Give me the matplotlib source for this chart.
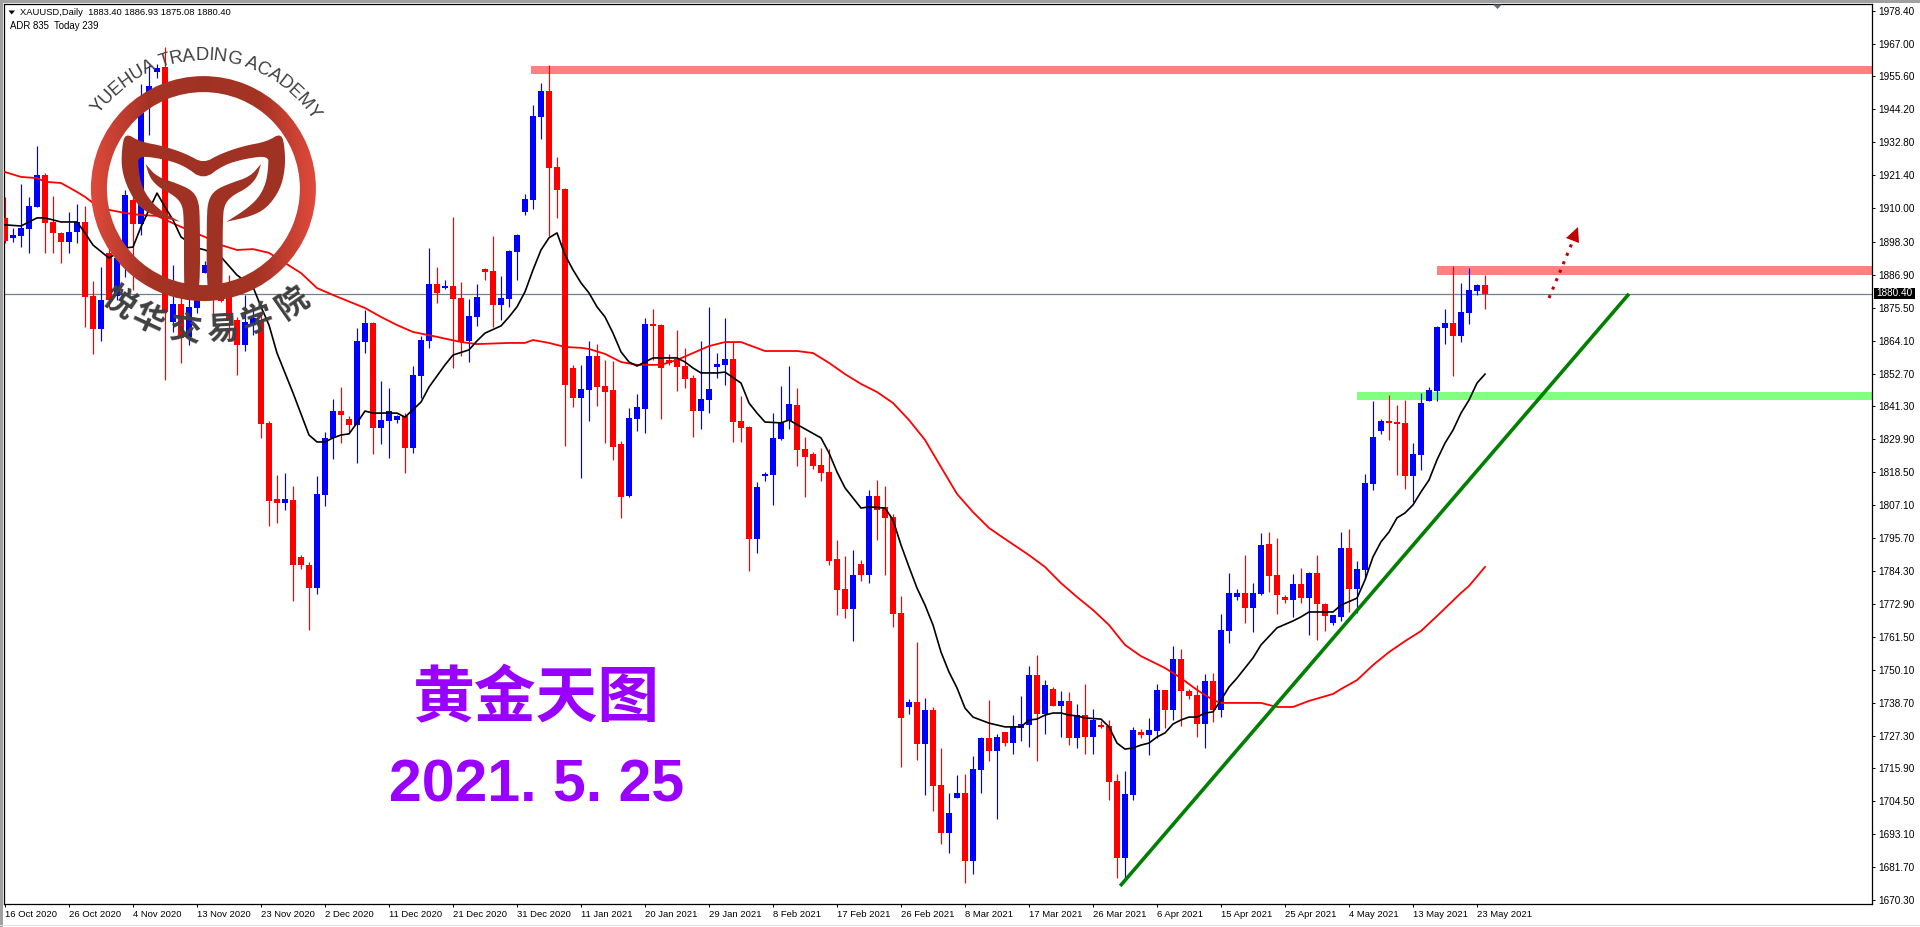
import numpy as np
import matplotlib
matplotlib.use('Agg')
import matplotlib.pyplot as plt
from matplotlib.colors import LinearSegmentedColormap
from matplotlib.patches import Polygon, Rectangle, Wedge

opens = [1906.6,1899.7,1900.3,1902.8,1910.4,1921.5,1905.2,1901.4,1898.3,1901.7,
         1905.2,1879.6,1868.1,1894.5,1879.6,1896.2,1912.8,1904.5,1947.5,1957.2,
         1958.9,1870.6,1876.8,1865.4,1875.4,1887.5,1886.8,1879.6,1880.6,1871.3,
         1862.6,1869.5,1871.3,1835.6,1809.2,1807.9,1808.9,1789.2,1786.4,1778.4,
         1810.6,1830.4,1839.7,1836.9,1834.9,1863.6,1870.2,1833.8,1836.3,1836.6,
         1838.0,1826.9,1851.8,1864.0,1883.7,1882.3,1883.0,1878.9,1864.0,1872.3,
         1888.9,1888.2,1876.4,1878.5,1894.8,1908.7,1912.8,1941.6,1950.6,1924.3,
         1916.6,1854.6,1844.2,1847.0,1858.8,1848.4,1847.0,1828.3,1810.3,1836.9,
         1840.4,1869.9,1869.5,1857.4,1857.7,1855.3,1851.2,1839.7,1843.5,1855.0,
         1855.7,1857.7,1836.3,1834.2,1795.4,1817.2,1817.6,1830.0,1836.3,1841.8,
         1826.6,1824.8,1821.0,1818.6,1788.5,1778.1,1771.1,1786.7,1782.9,1810.3,
         1806.5,1803.0,1769.8,1737.2,1738.9,1724.4,1736.2,1710.2,1693.5,1705.7,
         1707.4,1683.8,1715.4,1726.5,1721.9,1728.5,1724.7,1729.9,1731.0,1748.3,
         1734.8,1743.4,1737.5,1739.3,1726.5,1734.4,1726.8,1730.9,1730.6,1711.6,
         1684.9,1706.7,1728.5,1727.5,1728.9,1743.1,1736.2,1753.8,1742.7,1741.4,
         1731.3,1746.2,1736.2,1763.5,1775.3,1776.7,1771.5,1776.3,1793.7,1782.9,
         1775.3,1774.3,1779.8,1775.0,1783.6,1772.9,1766.3,1768.4,1792.3,1778.1,
         1784.7,1814.4,1832.8,1836.3,1835.9,1835.6,1817.2,1824.5,1843.2,1846.7,
         1868.5,1870.2,1865.7,1873.7,1881.3,1883.40]
highs = [1913.9,1903.1,1918.4,1913.9,1931.5,1922.2,1914.2,1901.7,1908.7,1911.4,
         1910.7,1884.8,1889.6,1896.5,1899.0,1916.3,1913.9,1953.0,1959.6,1959.9,
         1965.8,1890.3,1884.1,1879.9,1883.4,1891.7,1888.6,1883.4,1886.8,1872.3,
         1879.9,1874.7,1873.0,1836.3,1817.6,1818.3,1813.7,1789.8,1787.4,1817.2,
         1832.4,1843.9,1848.0,1838.0,1868.5,1874.7,1870.6,1850.1,1847.7,1838.3,
         1839.0,1855.3,1865.7,1896.2,1889.6,1885.1,1906.9,1884.4,1878.5,1883.7,
         1889.3,1900.3,1886.5,1895.5,1901.0,1914.9,1945.7,1953.4,1959.6,1927.7,
         1917.0,1855.7,1855.7,1864.0,1862.9,1857.4,1857.0,1829.3,1840.8,1845.6,
         1871.9,1875.1,1869.9,1859.5,1867.8,1861.5,1852.2,1864.0,1875.8,1859.8,
         1871.9,1863.6,1844.9,1834.5,1815.1,1818.6,1839.0,1848.4,1855.3,1847.7,
         1830.7,1825.5,1826.9,1826.6,1795.0,1789.5,1791.6,1788.1,1812.4,1815.8,
         1813.7,1804.0,1775.6,1740.0,1759.7,1740.3,1737.2,1723.0,1707.4,1713.6,
         1714.0,1720.2,1726.8,1739.6,1727.8,1728.5,1734.4,1741.0,1751.4,1755.2,
         1746.6,1744.1,1742.7,1742.4,1738.2,1745.2,1736.5,1732.3,1732.7,1714.0,
         1715.0,1730.3,1729.6,1733.4,1745.2,1743.1,1758.3,1757.3,1743.4,1744.8,
         1748.6,1749.0,1769.4,1783.6,1778.1,1789.8,1780.1,1797.5,1797.8,1795.7,
         1776.0,1783.3,1785.3,1783.9,1789.8,1773.2,1769.1,1797.8,1798.8,1787.8,
         1817.9,1843.2,1836.9,1845.3,1841.8,1843.5,1828.6,1846.0,1848.0,1869.2,
         1875.1,1890.0,1884.1,1889.3,1883.7,1886.93]
lows = [1897.9,1898.3,1896.5,1894.5,1910.4,1894.5,1894.5,1891.0,1894.5,1897.9,
        1868.8,1859.5,1864.0,1875.4,1878.2,1886.1,1881.7,1900.7,1935.3,1955.1,
        1850.5,1867.1,1856.4,1862.6,1873.7,1887.5,1872.3,1877.5,1864.3,1852.2,
        1860.5,1866.1,1830.4,1799.9,1800.9,1805.4,1773.9,1785.0,1763.9,1776.3,
        1806.8,1823.1,1828.6,1832.1,1821.7,1859.8,1824.8,1828.3,1823.4,1835.6,
        1818.3,1825.2,1844.2,1861.5,1877.1,1882.0,1854.6,1858.8,1856.7,1869.2,
        1885.1,1868.8,1871.3,1875.8,1885.1,1907.6,1909.7,1933.9,1900.3,1906.6,
        1827.6,1841.1,1816.5,1836.3,1841.5,1828.6,1822.8,1802.7,1809.9,1832.8,
        1832.1,1857.4,1836.9,1855.7,1846.7,1847.7,1830.7,1833.5,1839.0,1851.2,
        1848.7,1829.0,1829.0,1784.3,1790.5,1815.5,1807.2,1829.7,1833.5,1820.7,
        1809.9,1819.6,1815.5,1786.4,1769.1,1768.0,1760.0,1780.8,1780.1,1795.0,
        1782.9,1764.9,1716.4,1734.8,1718.8,1706.7,1701.2,1689.7,1686.6,1705.7,
        1676.2,1679.3,1707.4,1718.5,1698.4,1723.7,1720.9,1725.4,1723.3,1718.5,
        1727.8,1737.5,1726.8,1724.0,1723.0,1720.9,1720.9,1729.9,1705.0,1678.0,
        1677.3,1705.0,1726.5,1720.6,1726.5,1729.9,1732.7,1730.6,1740.0,1726.8,
        1723.0,1732.0,1733.7,1759.4,1774.3,1766.3,1763.2,1776.0,1777.0,1769.4,
        1773.2,1768.4,1773.2,1762.1,1760.4,1763.5,1765.6,1767.0,1770.1,1769.8,
        1781.5,1812.4,1831.8,1829.7,1817.6,1812.7,1808.2,1819.3,1843.2,1843.2,
        1862.9,1851.8,1863.6,1869.9,1879.9,1875.08]
closes = [1898.6,1900.7,1903.1,1910.7,1921.5,1904.9,1901.4,1898.3,1901.7,1905.2,
          1879.2,1868.1,1878.2,1878.2,1892.7,1914.5,1904.5,1943.0,1952.3,1958.5,
          1874.0,1876.8,1865.0,1875.8,1880.6,1890.3,1878.5,1877.8,1871.3,1862.6,
          1870.6,1871.9,1835.2,1808.6,1807.9,1809.2,1786.4,1786.4,1778.4,1811.0,
          1830.4,1839.7,1838.3,1834.9,1864.0,1870.2,1833.8,1836.6,1839.7,1838.0,
          1826.9,1852.2,1864.3,1883.7,1880.6,1883.0,1878.5,1863.6,1872.6,1879.2,
          1887.9,1876.4,1878.9,1895.2,1900.7,1913.2,1941.9,1950.6,1923.9,1916.3,
          1848.7,1844.2,1847.3,1858.8,1848.0,1846.3,1827.3,1809.9,1837.3,1841.1,
          1869.9,1869.2,1854.6,1856.4,1855.0,1850.8,1839.7,1843.9,1847.3,1856.0,
          1857.7,1835.9,1833.8,1795.4,1813.4,1817.7,1830.4,1835.6,1842.2,1826.2,
          1823.8,1820.7,1818.3,1787.8,1777.7,1771.1,1782.9,1782.9,1810.3,1805.4,
          1802.7,1769.4,1733.4,1738.9,1724.4,1736.2,1709.8,1693.5,1700.5,1707.4,
          1683.8,1715.7,1726.5,1721.9,1726.8,1724.7,1730.3,1731.3,1748.3,1734.8,
          1744.8,1737.5,1739.3,1726.5,1734.4,1726.8,1732.7,1730.3,1711.2,1684.9,
          1707.1,1729.2,1727.5,1729.2,1743.1,1736.2,1753.8,1742.7,1741.0,1731.3,
          1746.2,1736.2,1763.9,1776.7,1776.7,1771.5,1776.7,1793.3,1782.6,1776.0,
          1774.3,1779.8,1775.0,1783.6,1772.9,1768.7,1769.1,1792.3,1778.1,1785.0,
          1814.8,1830.7,1836.3,1835.6,1835.2,1817.2,1824.8,1842.5,1847.0,1868.8,
          1870.2,1865.7,1874.0,1881.7,1883.4,1880.40]

# moving averages, read at the bars where the line bends
black_bars = [0,2,3,4,5,7,9,10,11,13,15,16,17,18,19,20,21,22,24,25,27,29,31,32,33,34,36,38,39,40,
              41,42,43,44,45,46,49,50,52,53,55,56,58,59,60,62,63,64,65,66,67,68,69,70,71,72,73,74,75,76,
              77,78,79,80,81,84,85,86,87,89,90,92,93,94,95,97,98,102,103,104,105,107,108,110,111,112,113,114,115,116,
              117,118,119,120,121,123,125,127,128,129,130,131,132,133,134,135,137,138,139,140,141,142,143,144,145,146,147,148,149,150,
              151,152,153,154,155,156,157,159,161,162,163,166,167,169,170,171,172,173,174,175,176,177,178,179,180,181,182,183,184,185]
black_ma = [1904.2,1903.8,1905.2,1906.6,1906.6,1905.2,1905.2,1901.4,1897.2,1892.7,1896.2,1896.5,1903.5,1909.4,1915.2,1910.4,1905.9,1900.0,1896.2,1895.5,1893.1,1886.8,1882.7,1875.8,1869.5,1859.8,1846.0,1831.4,1829.0,1829.0,
            1830.4,1831.4,1831.8,1835.6,1839.7,1839.0,1839.0,1837.6,1842.8,1848.0,1855.7,1859.1,1860.9,1864.0,1866.7,1869.2,1872.3,1875.8,1881.0,1888.6,1895.5,1899.7,1901.4,1893.8,1888.6,1884.1,1880.6,1875.8,1872.3,1866.7,
            1860.2,1856.7,1855.3,1856.7,1858.1,1858.1,1856.7,1854.6,1852.9,1852.9,1853.2,1849.4,1842.5,1839.0,1835.9,1835.6,1836.6,1830.4,1825.2,1818.6,1813.1,1806.1,1806.5,1806.1,1802.0,1793.3,1785.7,1778.4,1772.5,1765.6,
            1756.2,1749.3,1743.8,1736.8,1733.7,1731.6,1730.3,1730.3,1732.7,1733.0,1734.4,1735.1,1735.1,1734.4,1734.1,1733.4,1733.0,1730.3,1724.7,1722.6,1723.0,1724.0,1724.7,1726.8,1728.2,1731.3,1732.7,1733.7,1733.7,1735.1,
            1735.5,1739.6,1744.1,1747.2,1750.7,1754.2,1758.7,1764.6,1767.0,1768.4,1770.1,1770.1,1772.5,1774.9,1781.2,1789.2,1794.4,1797.8,1802.7,1804.4,1807.2,1811.7,1815.8,1822.8,1828.6,1833.1,1839.0,1843.5,1849.4,1852.5]
red_bars = [0,2,4,5,7,9,10,11,13,15,17,19,22,25,27,29,31,33,35,37,39,41,45,47,49,51,54,57,59,63,
            65,66,68,70,72,73,75,77,79,82,84,86,88,90,92,95,99,101,103,105,107,109,111,113,115,117,119,121,123,125,
            128,130,132,134,136,138,140,142,145,147,149,151,152,157,159,161,163,166,167,169,171,173,175,177,179,182,183,185]
red_ma = [1922.5,1920.8,1920.4,1919.1,1918.7,1915.6,1913.9,1911.8,1909.4,1908.3,1907.6,1907.3,1903.5,1900.0,1897.2,1895.5,1895.8,1894.5,1891.0,1887.5,1882.3,1879.9,1875.4,1872.3,1869.5,1867.1,1865.4,1863.6,1862.9,1863.3,
          1863.3,1864.3,1863.3,1861.9,1861.6,1861.2,1859.5,1856.7,1855.7,1855.7,1857.4,1859.8,1862.2,1863.6,1863.6,1860.5,1860.5,1859.8,1856.4,1852.5,1849.1,1846.3,1842.5,1836.6,1829.7,1820.3,1811.0,1804.7,1799.2,1795.4,
          1789.8,1785.7,1780.1,1775.3,1770.8,1765.6,1758.7,1754.8,1750.7,1747.2,1743.1,1739.6,1738.6,1738.6,1737.2,1737.2,1739.3,1741.7,1743.4,1746.5,1751.7,1756.2,1760.0,1763.5,1768.7,1776.7,1779.1,1785.7]

trend_x = [139.4, 203.0]
trend_y = [1675.2, 1880.3]

price_ticks = [1978.40,1967.00,1955.60,1944.20,1932.80,1921.40,1910.00,1898.30,1886.90,1875.50,
               1864.10,1852.70,1841.30,1829.90,1818.50,1807.10,1795.70,1784.30,1772.90,1761.50,
               1750.10,1738.70,1727.30,1715.90,1704.50,1693.10,1681.70,1670.30]
date_labels = ['16 Oct 2020','26 Oct 2020','4 Nov 2020','13 Nov 2020','23 Nov 2020','2 Dec 2020',
               '11 Dec 2020','21 Dec 2020','31 Dec 2020','11 Jan 2021','20 Jan 2021','29 Jan 2021',
               '8 Feb 2021','17 Feb 2021','26 Feb 2021','8 Mar 2021','17 Mar 2021','26 Mar 2021',
               '6 Apr 2021','15 Apr 2021','25 Apr 2021','4 May 2021','13 May 2021','23 May 2021']

W, H = 1920, 927
UI_FONT = 'Liberation Sans'

fig = plt.figure(figsize=(W/100, H/100), dpi=100, facecolor='white')
ax = fig.add_axes([4/W, (H-904)/H, 1868/W, 900/H])
ax.set_xlim(-0.125, 233.375)
ax.set_ylim(1668.95, 1980.7)

bars = np.arange(len(opens))
o = np.array(opens)
c = np.array(closes)
colors = np.where(c < o, '#FF0000', '#0000FF')

# support / resistance zones go under the candles
ax.fill_between([65.75, 233.375], 1956.5, 1959.2, color='#FF8080', lw=0, zorder=1)
ax.fill_between([179, 233.375], 1886.8, 1890.0, color='#FF8080', lw=0, zorder=1)
ax.fill_between([169, 233.375], 1843.5, 1846.3, color='#80FF80', lw=0, zorder=1)

ax.axhline(closes[-1], color='#708090', lw=0.9, zorder=1.5)

ax.vlines(bars, lows, highs, colors=colors, lw=0.85, zorder=2)
ax.bar(bars, np.maximum(np.abs(c-o), 0.7), bottom=np.minimum(o, c), width=0.66,
       color=colors, linewidth=0, antialiased=False, zorder=3)

ax.plot(red_bars, red_ma, color='#FF0000', lw=1.3, zorder=4)
ax.plot(black_bars, black_ma, color='black', lw=1.2, zorder=5)
ax.plot(trend_x, trend_y, color='#008000', lw=2.6, zorder=6, solid_capstyle='butt')

ax.yaxis.tick_right()
ax.set_yticks(price_ticks)
ax.set_yticklabels(['%.2f' % p for p in price_ticks], fontfamily=UI_FONT, fontsize=7.2)
ax.set_xticks(bars[::8][:len(date_labels)])
ax.set_xticklabels(date_labels, fontfamily=UI_FONT, fontsize=6.8, ha='left')
ax.tick_params(axis='both', length=2.4, width=0.72, color='black', pad=2)
for s in ax.spines.values():
    s.set_linewidth(0.9)

# overlay in screen pixels for the window chrome, the arrow and the logo
ov = fig.add_axes([0, 0, 1, 1], zorder=10)
ov.set_xlim(0, W)
ov.set_ylim(H, 0)
ov.axis('off')
ov.patch.set_alpha(0)

ov.add_patch(Rectangle((0, 0), W, 2.5, color='#A0A0A0', lw=0))
ov.add_patch(Rectangle((0, 0), 2.5, H, color='#A0A0A0', lw=0))
ov.add_patch(Rectangle((0, 924.5), W, 1.5, color='#E0E0E0', lw=0))

ov.add_patch(Polygon([(8.5, 10.5), (15, 10.5), (11.7, 14.5)], color='black', lw=0))
ov.text(20, 12.5, 'XAUUSD,Daily  1883.40 1886.93 1875.08 1880.40', fontfamily=UI_FONT, fontsize=6.75,
        va='center', ha='left', color='black')
ov.text(10, 25.5, 'ADR 835  Today 239', fontfamily=UI_FONT, fontsize=6.9, va='center', ha='left', color='black')
ov.add_patch(Polygon([(1493, 4.5), (1502, 4.5), (1497.5, 9)], color='#607080', lw=0))

# last price flag
ov.add_patch(Rectangle((1874, 288), 41, 10.5, color='black', lw=0))
ov.text(1894.5, 293.5, '%.2f' % closes[-1], color='white', fontfamily=UI_FONT, fontsize=7.2, va='center', ha='center')

# dotted arrow
ov.plot([1549, 1572], [298, 243], color='#C00000', lw=2.2, ls=(0, (1, 2.0)))
ov.add_patch(Polygon([(1578, 227), (1566, 238), (1579, 243)], color='#C00000', lw=0))

# big titles
ov.text(536, 699, '黄金天图', color='#9900FF', fontfamily=['Noto Sans CJK SC', 'DejaVu Sans'],
        fontsize=44.5, fontweight='bold', ha='center', va='center')
ov.text(389, 802, '2021. 5. 25', color='#9900FF', fontfamily='Liberation Sans',
        fontsize=42.5, fontweight='bold', ha='left', va='baseline')

# logo ring with a lighter colour towards the sides
cx, cy = 203.4, 188.6
ring_cmap = LinearSegmentedColormap.from_list('ring', ['#E04A3C', '#A63425', '#A03224', '#A63425', '#E04A3C'])
grad = ov.imshow(np.linspace(0, 1, 256).reshape(1, -1), cmap=ring_cmap, aspect='auto',
                 extent=(cx-113, cx+113, cy+113, cy-113), zorder=20)
ring = Wedge((cx, cy), 112.5, 0, 360, width=16, transform=ov.transData, fc='none', lw=0)
ov.add_patch(ring)
grad.set_clip_path(ring)
ov.set_xlim(0, W)
ov.set_ylim(H, 0)


def chaikin(pts, n=2):
    pts = np.array(pts, dtype=float)
    for _ in range(n):
        nxt = np.roll(pts, -1, axis=0)
        pts = np.column_stack([0.75*pts + 0.25*nxt, 0.25*pts + 0.75*nxt]).reshape(-1, 2)
    return pts


horns = [(375,398),(420,425),(490,438),(560,462),(610,490),(660,462),(730,438),(800,425),(845,398),(855,450),
         (855,510),(840,570),(800,625),(750,650),(680,665),(680,665),(735,630),(775,595),(798,550),(805,500),(805,468),
         (740,475),(670,495),(610,540),(550,495),(480,475),(415,468),(415,500),(422,550),(445,595),
         (485,635),(540,665),(540,665),(470,650),(420,625),(385,570),(365,510),(365,450)]
stem = [(437,492),(437,492),(470,530),(530,550),(575,570),(595,600),(600,650),(600,870),(585,893),(555,900),
        (552,850),(552,650),(545,610),(520,585),(480,565),(450,535)]
stem_r = [(1220-x, y) for x, y in stem]
for shape in [horns, stem, stem_r]:
    ov.add_patch(Polygon(chaikin(shape)/3, closed=True, fc='#A03224', ec='none', lw=0, zorder=21))

# curved lettering round the ring
arc_text = 'YUEHUA TRADING ACADEMY'
arc_w = {'Y':.667,'U':.722,'E':.667,'H':.722,'A':.667,'T':.611,'R':.722,'D':.722,'I':.278,'N':.722,
         'G':.778,'C':.722,'M':.833,' ':.278}
em, r_text = 18.4, 133.0
pos = -arc_w[arc_text[0]]/2
for ch in arc_text:
    w = arc_w[ch]
    th = np.radians(-52) + (pos + w/2)*em/r_text
    pos += w
    ov.text(cx + r_text*np.sin(th), cy - r_text*np.cos(th), ch, fontfamily='Liberation Sans', fontsize=13.3,
            color='#404040', rotation=-np.degrees(th), rotation_mode='anchor', ha='center', va='center', zorder=22)

cn_chars = ['悦', '华', '交', '易', '学', '院']
cn_x = [118, 148, 185, 223, 257, 293]
cn_y = [303, 320, 330, 330, 320, 303]
cn_rot = [-35, -25, -8, 3, 20, 35]
for ch, x, y, rot in zip(cn_chars, cn_x, cn_y, cn_rot):
    ov.text(x, y, ch, fontfamily=['Noto Sans CJK SC', 'DejaVu Sans'], fontsize=23, fontweight='bold',
            color='#404040', rotation=rot, rotation_mode='anchor', ha='center', va='center', zorder=22)

plt.savefig('out.png', dpi=100)
